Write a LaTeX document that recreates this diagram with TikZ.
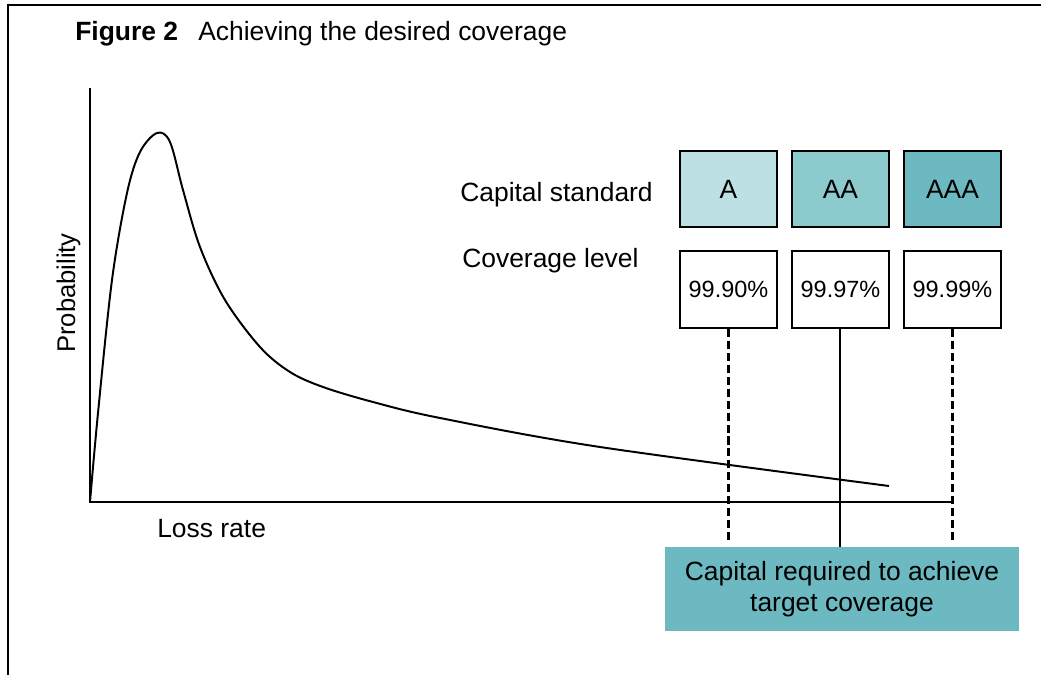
\documentclass[tikz,border=0pt]{standalone}
\usepackage{fontspec}
\setmainfont{Liberation Sans}
\usetikzlibrary{positioning, calc}
\definecolor{tealA}{HTML}{BDE0E4}
\definecolor{tealAA}{HTML}{8DCACE}
\definecolor{tealAAA}{HTML}{6CB9C1}

\begin{document}
\begin{tikzpicture}[
        every node/.style = {inner sep=0pt, font=\fontsize{18.8}{22.5}\selectfont},
        stdbox/.style = {draw, line width=1.4pt, minimum width=2.425cm, minimum height=1.9cm},
        lvlbox/.style = {stdbox, fill=white, minimum height=1.925cm, font=\fontsize{16.7}{20}\selectfont},
        dashline/.style = {line width=1.9pt, dash pattern=on 5.7pt off 2.8pt}
    ]
            \useasboundingbox (0,0) rectangle (26.025,16.875);
            \draw[line width=1.5pt] (0.2,0) -- (0.2,16.74) -- (26.025,16.74);
            \node[anchor=base west] (fignum) at (1.875,15.86) {\textbf{Figure 2}};
            \node[anchor=base west] (figtitle) at (4.95,15.86) {Achieving the desired coverage};
            % axes and loss curve
            \draw[line width=1.4pt] (2.25,14.675) -- (2.25,4.325) -- (23.8125,4.325);
            \draw[line width=1.4pt] plot[smooth, tension=0.55] coordinates {
                (2.25,4.325) (2.45,6.55) (2.8,9.875) (3.175,12.05) (3.5,13.075)
                (3.925,13.55) (4.25,13.325) (4.575,12.125) (5.0,10.7) (5.625,9.375)
                (6.5,8.2) (7.25,7.575) (8.075,7.2) (9.325,6.825) (11.0,6.425)
                (15.0,5.7) (22.225,4.725)};
            \node[anchor=base west, rotate=90, font=\fontsize{18.2}{20}\selectfont] (ylab) at (1.875,8.05) {Probability};
            \node[anchor=base west] (xlab) at (3.925,3.45) {Loss rate};
            % standards and coverage levels
            \node[anchor=base west] (stdlab) at (11.5,11.825) {Capital standard};
            \node[anchor=base west] (lvllab) at (11.55,10.175) {Coverage level};
            \node[stdbox, fill=tealA] (stdA) at (18.2125,12.15) {A};
            \node[stdbox, fill=tealAA, right=0.325cm of stdA] (stdAA) {AA};
            \node[stdbox, fill=tealAAA, right=0.325cm of stdAA] (stdAAA) {AAA};
            \node[lvlbox, below=0.55cm of stdA] (lvlA) {99.90\%};
            \node[lvlbox, below=0.55cm of stdAA] (lvlAA) {99.97\%};
            \node[lvlbox, below=0.55cm of stdAAA] (lvlAAA) {99.99\%};
            \node[fill=tealAAA, minimum width=8.85cm, minimum height=2.1cm, align=center] (capreq) at (21.05,2.15) {Capital required to achieve\\target coverage};
            \draw[dashline] (lvlA.south) -- ([yshift=1mm]lvlA.south |- capreq.north);
            \draw[line width=1.4pt] (lvlAA.south) -- (lvlAA.south |- capreq.north);
            \draw[dashline] (lvlAAA.south) -- ([yshift=1mm]lvlAAA.south |- capreq.north);
        \end{tikzpicture}
\end{document}
